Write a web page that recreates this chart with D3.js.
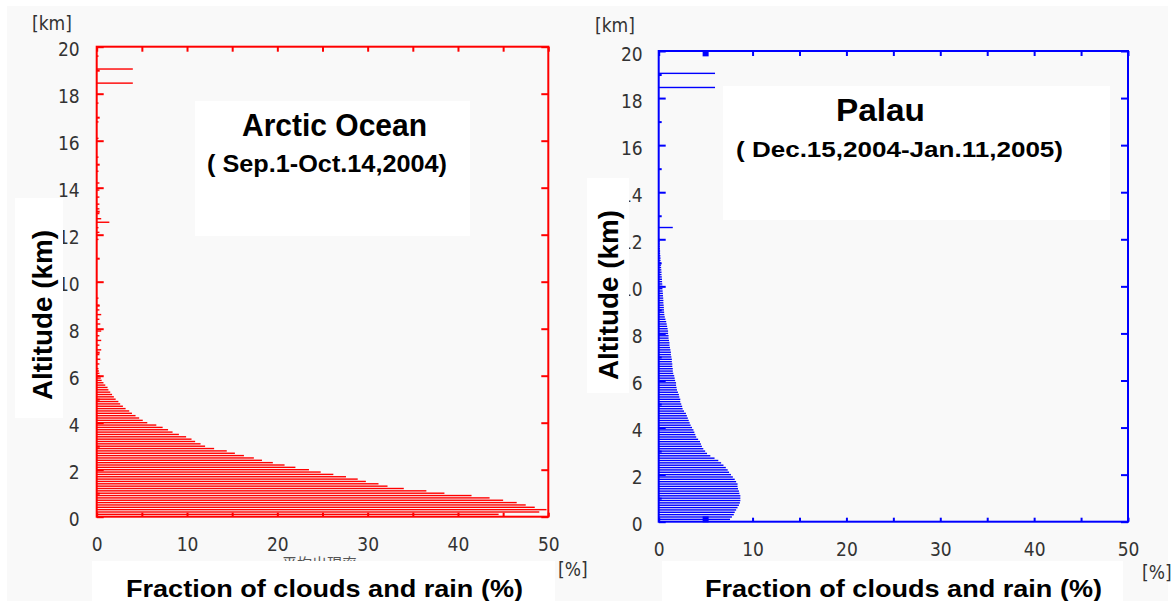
<!DOCTYPE html>
<html>
<head>
<meta charset="utf-8">
<script src="https://cdn.jsdelivr.net/npm/d3@7"></script>
<style>
  body { margin: 0; background: #ffffff; }
  .tick text { font-family: "Liberation Sans Narrow", "DejaVu Sans Condensed", sans-serif; font-size: 19px; fill: #333; }
  .lbl { font-family: "Liberation Sans", Arial, sans-serif; font-weight: bold; fill: #000; }
  .unit { font-family: "Liberation Sans Narrow", "DejaVu Sans Condensed", sans-serif; font-size: 19px; fill: #333; }
</style>
</head>
<body>
<div id="chart"></div>
<script>
// Cloud / rain fraction profiles (%), 0.1 km bins starting at 0.1 km

var arcticFraction = [
    44.5, 49, 49.8, 48.5, 47.5, 46.5, 45, 43.5, 41.5, 38.5,
    36.5, 34, 32.2, 31.2, 29.8, 28.9, 27.6, 26.2, 24.8, 23.5,
    22, 20.8, 19.5, 18.3, 17.4, 16.3, 15.3, 14.4, 13, 12,
    11.5, 10.9, 10.5, 9.9, 9.1, 8.4, 7.9, 7.3, 6.6, 5.6,
    5.1, 4.7, 4.3, 3.9, 3.6, 3.2, 2.9, 2.6, 2.4, 2.1,
    1.9, 1.7, 1.5, 1.3, 1.2, 0.95, 0.75, 0.55, 0.45, 0.35,
    0.3, 0.25, 0.2
];
// scattered small bars higher up: [altitude km, fraction %]
var arcticSparse = [
    [6.5, 0.3], [6.7, 0.4], [6.9, 0.3], [7.1, 0.5], [7.3, 0.3], [7.5, 0.5], [7.7, 0.3],
    [7.9, 0.5], [8.2, 0.4], [8.4, 0.3], [8.6, 0.5], [8.8, 0.3], [9.0, 0.3], [9.3, 0.2],
    [11.8, 0.2], [12.1, 0.3], [12.3, 0.2], [12.53, 1.4], [12.68, 0.5], [12.9, 0.3],
    [13.1, 0.3], [13.3, 0.3], [13.6, 0.3], [13.9, 0.3], [14.2, 0.3], [14.7, 0.2],
    [15.3, 0.2], [16.1, 0.2], [16.8, 0.2], [17.6, 0.2], [18.45, 4.0], [19.05, 4.0], [19.6, 0.2]
];

var palauFraction = [
    7.6, 7.8, 8.0, 8.1, 8.25, 8.4, 8.55, 8.65, 8.7, 8.7,
    8.7, 8.6, 8.55, 8.45, 8.4, 8.4, 8.25, 8.1, 7.9, 7.7,
    7.5, 7.35, 7.15, 6.9, 6.65, 6.35, 5.95, 5.5, 5.15, 4.95,
    4.75, 4.6, 4.5, 4.4, 4.2, 4.0, 3.9, 3.8, 3.7, 3.55,
    3.4, 3.3, 3.2, 3.1, 3.0, 2.9, 2.7, 2.55, 2.5, 2.4,
    2.3, 2.3, 2.2, 2.15, 2.05, 1.95, 1.9, 1.85, 1.85, 1.75,
    1.7, 1.65, 1.55, 1.5, 1.5, 1.45, 1.45, 1.4, 1.4, 1.35,
    1.3, 1.3, 1.25, 1.2, 1.15, 1.15, 1.1, 1.05, 1.05, 1.0,
    1.0, 0.95, 0.9, 0.85, 0.8, 0.72, 0.65, 0.6, 0.58, 0.56,
    0.55, 0.53, 0.5, 0.5, 0.48, 0.46, 0.45, 0.42, 0.4, 0.4,
    0.38, 0.36, 0.35, 0.33, 0.3, 0.3, 0.28, 0.26, 0.25, 0.22,
    0.2, 0.2, 0.18, 0.15, 0.15, 0.12, 0.1, 0.1, 0.1, 0.08
];
var palauSparse = [[12.5, 1.5], [18.45, 6.0], [19.05, 6.0]];
var palauMarkers = [[0.1, 5], [19.9, 5]];

var xTicks = [0, 5, 10, 15, 20, 25, 30, 35, 40, 45, 50];
var yMajor = [0, 2, 4, 6, 8, 10, 12, 14, 16, 18, 20];
var yMinor = [1, 3, 5, 7, 9, 11, 13, 15, 17, 19];

var svg = d3.select("#chart").append("svg")
    .attr("width", 1173)
    .attr("height", 601);

svg.append("rect").attr("width", 1173).attr("height", 601).attr("fill", "#ffffff");
svg.append("rect").attr("x", 7).attr("y", 6).attr("width", 1161).attr("height", 595).attr("fill", "#f9f9f9");

function toBars(values) {
    return values.map(function (v, i) { return { alt: (i + 1) * 0.1, val: v }; });
}

function drawPanel(p) {
    var x = d3.scaleLinear().domain([0, 50]).range([p.x0, p.x1]);
    var y = d3.scaleLinear().domain([0, 20]).range([p.y0, p.y1]);
    var g = svg.append("g");

    // bars
    var bars = toBars(p.values).concat(p.sparse.map(function (d) { return { alt: d[0], val: d[1] }; }));
    g.append("g").selectAll("rect")
        .data(bars)
        .enter()
        .append("rect")
        .attr("x", x(0))
        .attr("y", d => y(d.alt) - 0.7)
        .attr("width", d => x(d.val) - x(0))
        .attr("height", 1.4)
        .attr("fill", p.color);

    // axes
    var left = g.append("g")
        .attr("transform", `translate(${p.x0},0)`)
        .call(d3.axisLeft(y).tickValues(yMajor).tickSize(-7).tickSizeOuter(0).tickPadding(p.yPad));
    left.selectAll("text").attr("dy", "0.48em");
    g.append("g")
        .attr("transform", `translate(${p.x0},0)`)
        .call(d3.axisLeft(y).tickValues(yMinor).tickSize(-3).tickSizeOuter(0).tickFormat(""));
    g.append("g")
        .attr("transform", `translate(${p.x1},0)`)
        .call(d3.axisRight(y).tickValues(yMajor).tickSize(-7).tickSizeOuter(0).tickFormat(""));
    g.append("g")
        .attr("transform", `translate(0,${p.y0})`)
        .call(d3.axisBottom(x).tickValues(xTicks).tickSize(-4).tickSizeOuter(0).tickPadding(21)
            .tickFormat(d => d % 10 === 0 ? d : ""));
    g.append("g")
        .attr("transform", `translate(0,${p.y1})`)
        .call(d3.axisTop(x).tickValues(xTicks).tickSize(-5).tickSizeOuter(0).tickFormat(""));

    g.selectAll(".domain").remove();
    g.selectAll(".tick line").attr("stroke", p.color).attr("stroke-width", 2);

    // frame
    g.append("rect")
        .attr("x", p.x0).attr("y", p.y1)
        .attr("width", p.x1 - p.x0).attr("height", p.y0 - p.y1)
        .attr("fill", "none")
        .attr("stroke", p.color)
        .attr("stroke-width", 2);

    // point markers
    g.selectAll("rect.mark")
        .data(p.markers)
        .enter()
        .append("rect")
        .attr("class", "mark")
        .attr("x", d => x(d[1]) - 3)
        .attr("y", d => y(d[0]) - 3)
        .attr("width", 6).attr("height", 6)
        .attr("fill", p.color);

    // unit labels
    g.append("text").attr("class", "unit").attr("x", p.kmX).attr("y", p.kmY).text("[km]");
    g.append("text").attr("class", "unit").attr("x", p.pctX).attr("y", p.pctY).text("[%]");

    return g;
}

var leftG = drawPanel({
    x0: 96.7, x1: 548.3, y0: 516.7, y1: 46.7, color: "#ff0000", yPad: 17,
    values: arcticFraction, sparse: arcticSparse, markers: [],
    kmX: 32, kmY: 30, pctX: 558, pctY: 576
});

// partly hidden japanese axis caption under the label box
svg.append("text")
    .attr("x", 282).attr("y", 569)
    .attr("font-family", "Noto Sans CJK JP").attr("font-size", 15).attr("fill", "#555")
    .text("平均出現率");

var rightG = drawPanel({
    x0: 658.7, x1: 1128, y0: 521.7, y1: 51, color: "#0000ff", yPad: 16,
    values: palauFraction, sparse: palauSparse, markers: palauMarkers,
    kmX: 595, kmY: 32, pctX: 1142, pctY: 579
});

// white label boxes
var boxes = [
    [195, 101, 275, 135], [15, 198, 48, 220], [92, 561, 463, 40],
    [723, 86, 387, 134], [587, 178, 42, 215], [662, 561, 461, 40]
];
svg.selectAll("rect.box")
    .data(boxes)
    .enter()
    .append("rect")
    .attr("class", "box")
    .attr("x", d => d[0]).attr("y", d => d[1])
    .attr("width", d => d[2]).attr("height", d => d[3])
    .attr("fill", "#ffffff");

function label(txt, x, y, size, len, rot) {
    var t = svg.append("text")
        .attr("class", "lbl")
        .attr("font-size", size)
        .attr("textLength", len)
        .attr("lengthAdjust", "spacingAndGlyphs")
        .text(txt);
    if (rot) {
        t.attr("transform", `translate(${x},${y}) rotate(-90)`).attr("text-anchor", "middle");
    } else {
        t.attr("x", x).attr("y", y);
    }
}

label("Arctic Ocean", 242, 136, 32, 185);
label("( Sep.1-Oct.14,2004)", 207, 172, 23, 240);
label("Palau", 836, 121, 31, 89);
label("( Dec.15,2004-Jan.11,2005)", 736, 157, 22, 327);
label("Altitude (km)", 52, 315, 28, 170, true);
label("Altitude (km)", 618, 295, 27, 170, true);
label("Fraction of clouds and rain (%)", 126, 597, 24, 397);
label("Fraction of clouds and rain (%)", 705, 597, 24, 397);
</script>
</body>
</html>
